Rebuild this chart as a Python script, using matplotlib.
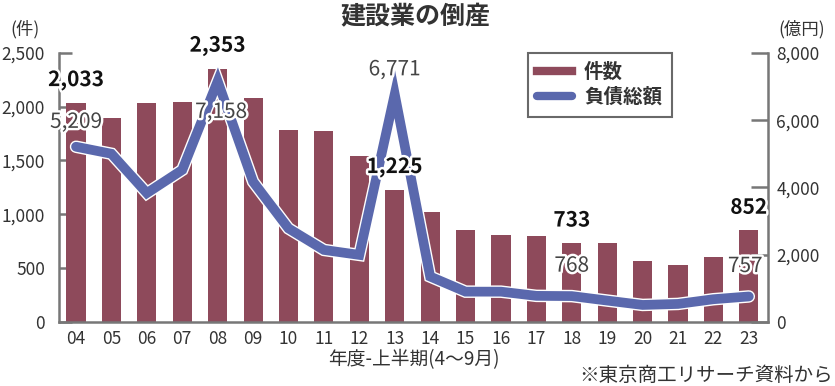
import matplotlib
matplotlib.use('Agg')
import matplotlib.pyplot as plt
import matplotlib.patheffects as pe
from matplotlib.lines import Line2D

plt.rcParams['font.family'] = ['Noto Sans CJK JP', 'DejaVu Sans']

years = ['04', '05', '06', '07', '08', '09', '10', '11', '12', '13',
         '14', '15', '16', '17', '18', '19', '20', '21', '22', '23']
cases = [2033, 1895, 2035, 2040, 2353, 2080, 1785, 1775, 1545, 1225,
         1022, 850, 808, 800, 733, 730, 567, 530, 607, 852]
debt = [5209, 5000, 3830, 4520, 7158, 4170, 2780, 2141, 1993, 6771,
        1350, 900, 900, 775, 768, 635, 505, 535, 675, 757]

# labelled points: (index, text)
case_labels = [(0, '2,033'), (4, '2,353'), (9, '1,225'), (14, '733'), (19, '852')]
debt_labels = [(0, '5,209'), (4, '7,158'), (9, '6,771'), (14, '768'), (19, '757')]

BAR = '#8e4a5b'
LINE = '#5a68ad'
GRAY = '#777777'
TXT = '#333333'

fig = plt.figure(figsize=(8.35, 3.86), dpi=100)
ax = fig.add_axes([0.0707, 0.166, 0.849, 0.697])
ax2 = ax.twinx()

x = list(range(len(years)))
ax.bar(x, cases, width=0.54, color=BAR, zorder=2)
ax.set_xlim(-0.48, 19.54)
ax.set_ylim(0, 2500)
ax.set_yticks([0, 500, 1000, 1500, 2000, 2500])
ax.set_yticklabels(['0', '500', '1,000', '1,500', '2,000', '2,500'])
ax.set_xticks(x)
ax.set_xticklabels(years)

ax2.plot(x, debt, color=LINE, lw=7, solid_joinstyle='miter', solid_capstyle='round', zorder=3,
         path_effects=[pe.Stroke(linewidth=9, foreground='white'), pe.Normal()])
ax2.set_ylim(0, 8000)
ax2.set_yticks([0, 2000, 4000, 6000, 8000])
ax2.set_yticklabels(['0', '2,000', '4,000', '6,000', '8,000'])

for a in (ax, ax2):
    a.spines['top'].set_visible(False)
    for s in ['left', 'right', 'bottom']:
        a.spines[s].set_color(GRAY)
        a.spines[s].set_linewidth(1.8)
ax.spines['right'].set_visible(False)
ax2.spines['left'].set_visible(False)
ax2.spines['bottom'].set_visible(False)

ax.tick_params(axis='y', direction='in', length=9, width=1.8, color=GRAY,
               labelsize=12.5, labelcolor=TXT, pad=10)
ax.tick_params(axis='x', length=0, labelsize=12.5, labelcolor=TXT, pad=6)
ax2.tick_params(axis='y', direction='in', length=12, width=1.8, color=GRAY,
                labelsize=12.5, labelcolor=TXT, pad=6)

outline = [pe.withStroke(linewidth=3.5, foreground='white')]
# case labels go on ax2 (drawn above the line) but use the bar axis coordinates
for i, t in case_labels:
    ax2.annotate(t, (i, cases[i]), xycoords=ax.transData, xytext=(0, 9),
                 textcoords='offset points', ha='center', va='bottom', fontsize=15,
                 fontweight='bold', color='#111111', path_effects=outline, zorder=5)
debt_off = {0: (0, 10), 4: (0.1, -30), 9: (0, 10), 14: (0, 14), 19: (-0.1, 14)}
for i, t in debt_labels:
    xo, dy = debt_off[i]
    ax2.annotate(t, (i + xo, debt[i]), xytext=(0, dy), textcoords='offset points',
                 ha='center', va='bottom', fontsize=15, color='#444444',
                 path_effects=outline, zorder=5)

leg = ax2.legend(handles=[Line2D([0], [0], color=BAR, lw=6),
                          Line2D([0], [0], color=LINE, lw=6, solid_capstyle='round')],
                 labels=['件数', '負債総額'],
                 loc='upper left', bbox_to_anchor=(0.661, 1.0), borderaxespad=0,
                 fancybox=False, edgecolor='#444444', handlelength=1.8,
                 borderpad=0.5, labelspacing=0.3, handletextpad=0.6,
                 prop={'weight': 'bold', 'size': 14})
leg.get_frame().set_linewidth(1.5)
leg.set_zorder(6)
for t in leg.get_texts():
    t.set_color(TXT)

fig.text(0.497, 0.955, '建設業の倒産', ha='center', va='center', fontsize=18,
         fontweight='bold', color=TXT)
fig.text(0.03, 0.925, '(件)', ha='center', va='center', fontsize=12.5, color=TXT)
fig.text(0.96, 0.925, '(億円)', ha='center', va='center', fontsize=12.5, color=TXT)
fig.text(0.496, 0.068, '年度-上半期(4〜9月)', ha='center', va='center', fontsize=13.5, color=TXT)
fig.text(0.998, 0.028, '※東京商工リサーチ資料から', ha='right', va='center', fontsize=14, color=TXT)

fig.savefig('out.png', dpi=100)
